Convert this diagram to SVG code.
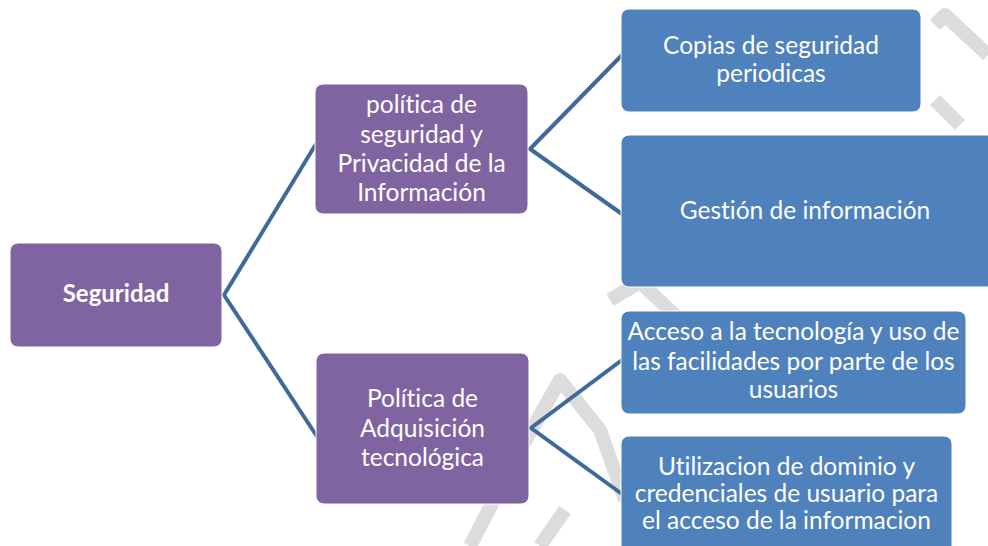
<svg xmlns="http://www.w3.org/2000/svg" width="988" height="546" viewBox="0 0 988 546">
<style>
.p{fill:#8064a2;stroke:#ffffff;stroke-width:1}
.b{fill:#4f81bd;stroke:#ffffff;stroke-width:1}
.t{font-family:Lato,"Open Sans","Noto Sans",sans-serif;font-size:24.5px;fill:#ffffff;text-anchor:middle;font-variant-ligatures:none}
.bold{font-weight:bold;font-size:24px}
.c{fill:none;stroke:#3e6a9b;stroke-width:4;stroke-linejoin:miter}
.w{fill:none;stroke:#dcdcdc;stroke-width:14;stroke-linecap:butt;stroke-linejoin:round}
</style>
<rect width="988" height="546" fill="#ffffff"/>
<g id="watermark">
<polyline class="w" points="988,55 945,15 935,25"/>
<polyline class="w" points="935,100 960,125"/>
<polyline class="w" points="610,300 640,282 680,320"/>
<polyline class="w" points="470,546 520,450 560,380 600,430 625,500"/>
<polyline class="w" points="540,546 565,510"/>
</g>
<g id="connectors">
<polyline class="c" points="316,144 224,295 318,438"/>
<polyline class="c" points="622,55 530,149 622,214"/>
<polyline class="c" points="622,360 531,428 622,494"/>
</g>
<g id="seguridad">
<rect class="p" x="10" y="243" width="212" height="104" rx="8"/>
<text class="t bold" x="116" y="302">Seguridad</text>
</g>
<g id="politica-seguridad">
<rect class="p" x="315" y="84" width="213" height="130" rx="8"/>
<text class="t" x="421.5" y="113">política de</text>
<text class="t" x="421.5" y="143">seguridad y</text>
<text class="t" x="421.5" y="172">Privacidad de la</text>
<text class="t" x="421.5" y="201">Información</text>
</g>
<g id="politica-adquisicion">
<rect class="p" x="316" y="353" width="213" height="151" rx="8"/>
<text class="t" x="422.5" y="407">Política de</text>
<text class="t" x="422.5" y="437">Adquisición</text>
<text class="t" x="422.5" y="466">tecnológica</text>
</g>
<g id="copias">
<rect class="b" x="621" y="9" width="300" height="103" rx="8"/>
<text class="t" x="771" y="54">Copias de seguridad</text>
<text class="t" x="771" y="82">periodicas</text>
</g>
<g id="gestion">
<rect class="b" x="621" y="135" width="374" height="152" rx="8"/>
<text class="t" x="805" y="219">Gestión de información</text>
</g>
<g id="acceso">
<rect class="b" x="621" y="311" width="345" height="103" rx="8"/>
<text class="t" x="793.5" y="340">Acceso a la tecnología y uso de</text>
<text class="t" x="793.5" y="370">las facilidades por parte de los</text>
<text class="t" x="793.5" y="398">usuarios</text>
</g>
<g id="utilizacion">
<rect class="b" x="621" y="436" width="331" height="124" rx="8"/>
<text class="t" x="786.5" y="475">Utilizacion de dominio y</text>
<text class="t" x="786.5" y="502">credenciales de usuario para</text>
<text class="t" x="786.5" y="529">el acceso de la informacion</text>
</g>
</svg>
